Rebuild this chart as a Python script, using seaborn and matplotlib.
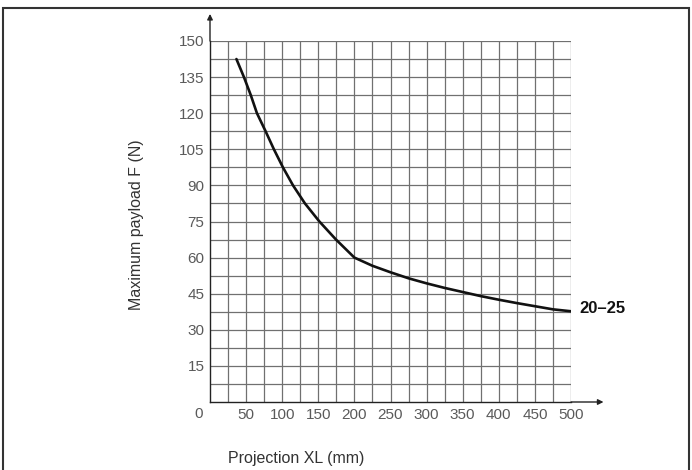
import numpy as np
import pandas as pd
import seaborn as sns
import matplotlib
matplotlib.use("Agg")
import matplotlib.pyplot as plt
from matplotlib.patches import Rectangle

# values
projection_mm = [36.6, 47, 56.5, 65, 77, 88.5, 101, 115, 131.5, 151.5, 174.5, 200,
                 225, 250, 275, 300, 325, 350, 375, 400, 425, 450, 475, 500]
payload_n = [142.5, 135, 127.5, 120, 112.5, 105, 97.5, 90, 82.5, 75, 67.5, 60,
             56.6, 53.9, 51.4, 49.3, 47.4, 45.7, 44.0, 42.5, 41.1, 39.8, 38.5, 37.7]
x_ticks = [50, 100, 150, 200, 250, 300, 350, 400, 450, 500]
y_ticks = [15, 30, 45, 60, 75, 90, 105, 120, 135, 150]
curve_label = "20–25"

df = pd.DataFrame({"XL": projection_mm, "F": payload_n})

sns.set_style("white")
plt.rcParams['font.family'] = ['Liberation Sans', 'DejaVu Sans']

fig = plt.figure(figsize=(6.92, 4.70), dpi=100)
ax = fig.add_axes([210 / 692, 1 - 402 / 470, 361 / 692, 361 / 470])

# grid of 25 mm x 7.5 N cells
for gx in np.arange(25, 501, 25):
    ax.axvline(gx, color="#707070", lw=0.9, zorder=1)
for gy in np.arange(7.5, 150.1, 7.5):
    ax.axhline(gy, color="#707070", lw=0.9, zorder=1)

sns.lineplot(data=df, x="XL", y="F", ax=ax, color="#111111", lw=1.9, zorder=3)

ax.set_xlim(0, 500)
ax.set_ylim(0, 150)
ax.set_xticks(x_ticks)
ax.set_yticks(y_ticks)
ax.tick_params(length=0, labelsize=11, labelcolor="#5a5a5a", pad=4)
ax.set_xlabel("")
ax.set_ylabel("")

for side in ["top", "right"]:
    ax.spines[side].set_visible(False)
for side in ["left", "bottom"]:
    ax.spines[side].set_color("#222222")
    ax.spines[side].set_linewidth(1.0)

# origin label
ax.text(-0.02, -0.032, "0", transform=ax.transAxes, ha="right", va="center",
        fontsize=11, color="#5a5a5a")

# axis arrows
ax.annotate("", xy=(0, 1.075), xytext=(0, 1.0), xycoords="axes fraction",
            arrowprops=dict(arrowstyle="-|>", color="#222222", lw=1.0,
                            mutation_scale=8, shrinkA=0, shrinkB=0))
ax.annotate("", xy=(1.09, 0), xytext=(1.0, 0), xycoords="axes fraction",
            arrowprops=dict(arrowstyle="-|>", color="#222222", lw=1.0,
                            mutation_scale=8, shrinkA=0, shrinkB=0))

ax.text(projection_mm[-1] + 12, payload_n[-1] + 1.2, curve_label,
        fontsize=12, fontweight="bold", ha="left", va="center", color="#111111")

fig.text(136 / 692, 1 - 225 / 470, "Maximum payload F (N)", rotation=90,
         ha="center", va="center", fontsize=11.5, color="#333333")
fig.text(296 / 692, 1 - 458 / 470, "Projection XL (mm)",
         ha="center", va="center", fontsize=11.5, color="#333333")

# outer frame
fig.patches.append(Rectangle((3 / 692, -0.2), 686 / 692, 1.2 - 8 / 470,
                             transform=fig.transFigure, fill=False,
                             edgecolor="#333333", lw=1.5))

fig.savefig("out.png", dpi=100)
